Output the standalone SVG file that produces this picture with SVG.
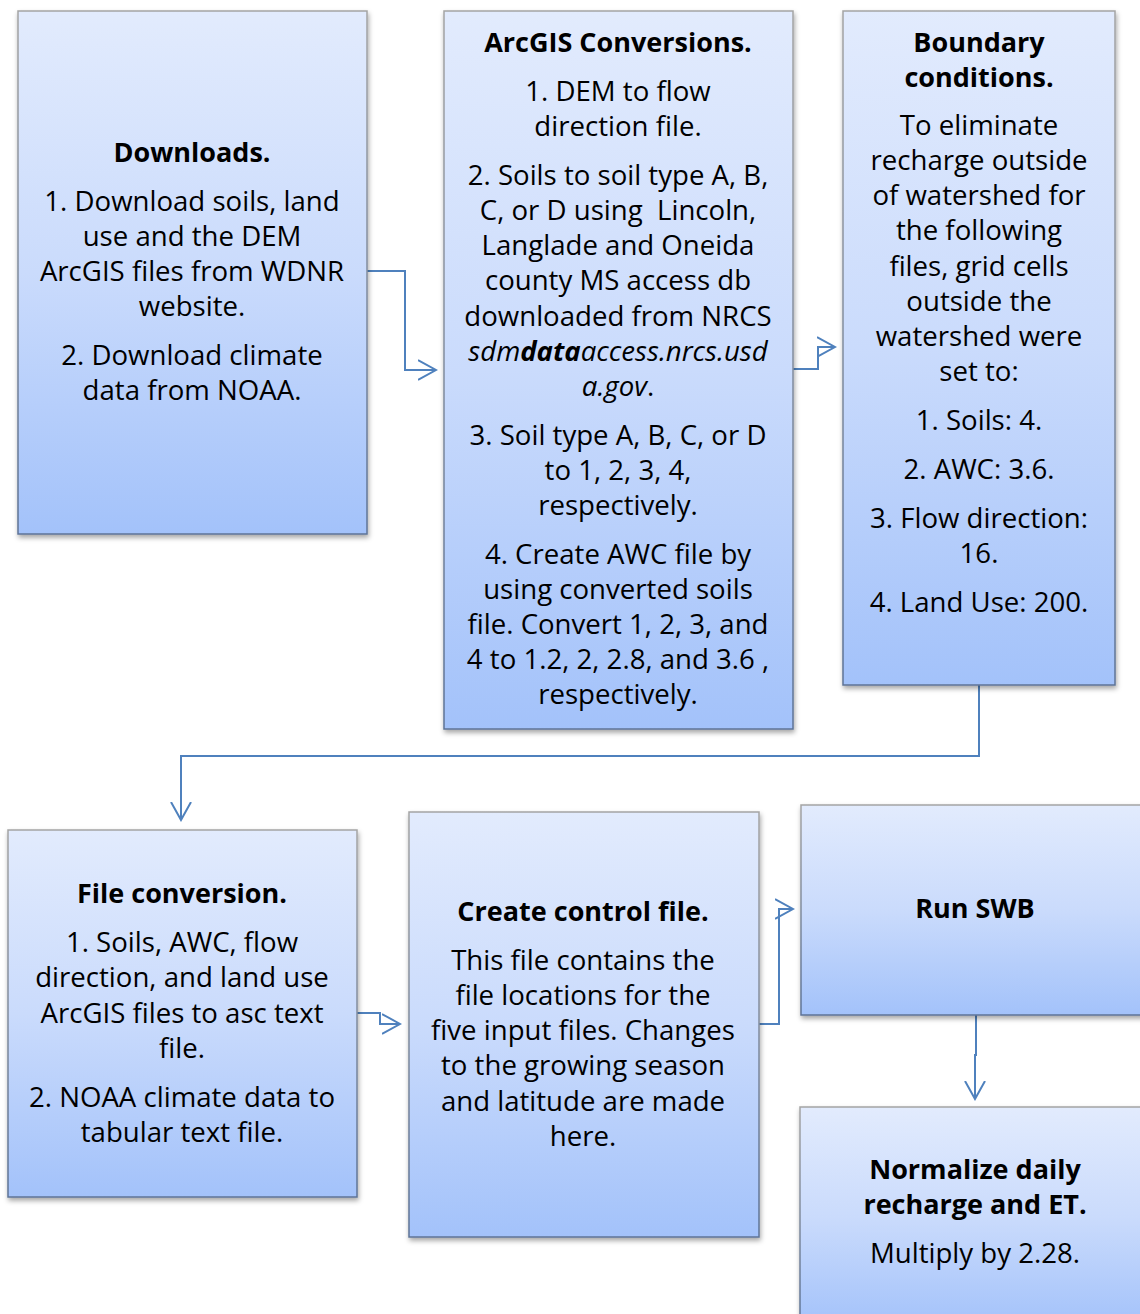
<svg xmlns="http://www.w3.org/2000/svg" width="1140" height="1314" viewBox="0 0 1140 1314">
<style>
text{font-family:"Open Sans","Liberation Sans",sans-serif;font-size:27.6px;fill:#000;text-anchor:middle}
.t{font-weight:bold;font-size:27px}
.box{fill:url(#g);stroke:url(#gs);stroke-width:1.5;filter:url(#sh)}
.c{fill:none;stroke:#4f81bd;stroke-width:2;marker-end:url(#ah)}
</style>
<defs>
<linearGradient id="g" x1="0" y1="0" x2="0" y2="1">
<stop offset="0" stop-color="#e2ebfd"/>
<stop offset="0.5" stop-color="#cadbfc"/>
<stop offset="1" stop-color="#a3c2fa"/>
</linearGradient>
<linearGradient id="gs" x1="0" y1="0" x2="0" y2="1">
<stop offset="0" stop-color="#a4a4a4"/>
<stop offset="1" stop-color="#5d7396"/>
</linearGradient>
<filter id="sh" x="-10%" y="-10%" width="120%" height="120%">
<feDropShadow dx="1" dy="3" stdDeviation="2.5" flood-color="#000" flood-opacity="0.35"/>
</filter>
<marker id="ah" markerUnits="userSpaceOnUse" viewBox="0 0 20 22" refX="18" refY="11" markerWidth="20" markerHeight="22" orient="auto">
<path d="M0,1 L18,11 L0,21" fill="none" stroke="#4f81bd" stroke-width="2"/>
</marker>
</defs>

<g id="connectors">
<path class="c" d="M367,271 H405 V370 H436"/>
<path class="c" d="M793,369 H818 V347 H835"/>
<path class="c" d="M979,685 V756 H181 V820"/>
<path class="c" d="M357,1013 H380 V1024 H400"/>
<path class="c" d="M759,1024 H779 V909 H793"/>
<path class="c" d="M976,1015 V1055 H975 V1099"/>
</g>

<g id="downloads">
<rect class="box" x="18" y="11" width="349" height="523"/>
<text x="192" y="162" class="t">Downloads.</text>
<text x="192" y="211">1. Download soils, land</text>
<text x="192" y="246">use and the DEM</text>
<text x="192" y="281">ArcGIS files from WDNR</text>
<text x="192" y="316">website.</text>
<text x="192" y="365">2. Download climate</text>
<text x="192" y="400">data from NOAA.</text>
</g>

<g id="arcgis">
<rect class="box" x="444" y="11" width="349" height="718"/>
<text x="618" y="52" class="t">ArcGIS Conversions.</text>
<text x="618" y="101">1. DEM to flow</text>
<text x="618" y="136">direction file.</text>
<text x="618" y="185">2. Soils to soil type A, B,</text>
<text x="618" y="220" xml:space="preserve">C, or D using  Lincoln,</text>
<text x="618" y="255">Langlade and Oneida</text>
<text x="618" y="290">county MS access db</text>
<text x="618" y="326">downloaded from NRCS</text>
<text x="618" y="361" font-style="italic">sdm<tspan font-weight="bold">data</tspan>access.nrcs.usd</text>
<text x="618" y="396"><tspan font-style="italic">a.gov</tspan>.</text>
<text x="618" y="445">3. Soil type A, B, C, or D</text>
<text x="618" y="480">to 1, 2, 3, 4,</text>
<text x="618" y="515">respectively.</text>
<text x="618" y="564">4. Create AWC file by</text>
<text x="618" y="599">using converted soils</text>
<text x="618" y="634">file. Convert 1, 2, 3, and</text>
<text x="618" y="669">4 to 1.2, 2, 2.8, and 3.6 ,</text>
<text x="618" y="704">respectively.</text>
</g>

<g id="boundary">
<rect class="box" x="843" y="11" width="272" height="674"/>
<text x="979" y="52" class="t">Boundary</text>
<text x="979" y="87" class="t">conditions.</text>
<text x="979" y="135">To eliminate</text>
<text x="979" y="170">recharge outside</text>
<text x="979" y="205">of watershed for</text>
<text x="979" y="240">the following</text>
<text x="979" y="276">files, grid cells</text>
<text x="979" y="311">outside the</text>
<text x="979" y="346">watershed were</text>
<text x="979" y="381">set to:</text>
<text x="979" y="430">1. Soils: 4.</text>
<text x="979" y="479">2. AWC: 3.6.</text>
<text x="979" y="528">3. Flow direction:</text>
<text x="979" y="563">16.</text>
<text x="979" y="612">4. Land Use: 200.</text>
</g>

<g id="fileconversion">
<rect class="box" x="8" y="830" width="349" height="367"/>
<text x="182" y="903" class="t">File conversion.</text>
<text x="182" y="952">1. Soils, AWC, flow</text>
<text x="182" y="987">direction, and land use</text>
<text x="182" y="1023">ArcGIS files to asc text</text>
<text x="182" y="1058">file.</text>
<text x="182" y="1107">2. NOAA climate data to</text>
<text x="182" y="1142">tabular text file.</text>
</g>

<g id="controlfile">
<rect class="box" x="409" y="812" width="350" height="425"/>
<text x="583" y="921" class="t">Create control file.</text>
<text x="583" y="970">This file contains the</text>
<text x="583" y="1005">file locations for the</text>
<text x="583" y="1040">five input files. Changes</text>
<text x="583" y="1075">to the growing season</text>
<text x="583" y="1111">and latitude are made</text>
<text x="583" y="1146">here.</text>
</g>

<g id="runswb">
<rect class="box" x="801" y="805" width="350" height="210"/>
<text x="975" y="918" class="t">Run SWB</text>
</g>

<g id="normalize">
<rect class="box" x="800" y="1107" width="350" height="220"/>
<text x="975" y="1179" class="t">Normalize daily</text>
<text x="975" y="1214" class="t">recharge and ET.</text>
<text x="975" y="1263">Multiply by 2.28.</text>
</g>
</svg>
